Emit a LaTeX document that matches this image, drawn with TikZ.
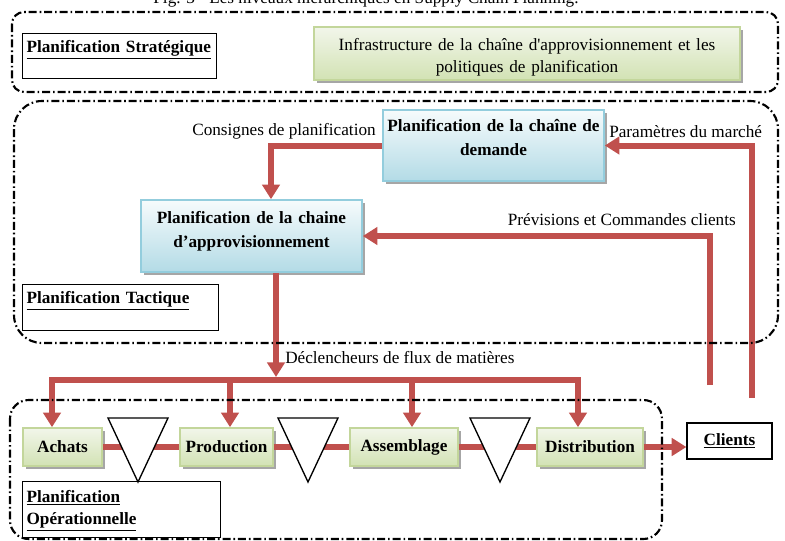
\documentclass[tikz,border=0pt]{standalone}
\usepackage{fontspec}
\setmainfont{Liberation Serif}[Ligatures=TeXOff]
\usetikzlibrary{arrows.meta,shadows}

\definecolor{rouge}{HTML}{C0504D}
\definecolor{vertclair}{HTML}{F2F6EA}
\definecolor{vertfonce}{HTML}{D2E2B4}
\definecolor{vertbord}{HTML}{C3D69B}
\definecolor{bleuclair}{HTML}{F6FBFC}
\definecolor{bleufonce}{HTML}{B3DBE6}
\definecolor{bleubord}{HTML}{93CDDD}

\tikzset{
	txt/.style={font=\fontsize{12.9}{16.5}\selectfont, inner sep=0pt},
	niveau/.style={line width=1.6pt, dash pattern=on 6pt off 2.2pt on 1.2pt off 2.2pt},
	cadre/.style={draw, line width=0.9pt, font=\bfseries\fontsize{12.9}{16.5}\selectfont},
	etiquette/.style={cadre, anchor=north west, align=left, inner xsep=3pt, inner ysep=3pt, text height=11.25pt},
	ombre/.style={drop shadow={shadow xshift=2.2pt, shadow yshift=-2.2pt, fill=black!35, opacity=1}},
	vert/.style={draw=vertbord, line width=1.2pt, top color=vertclair, bottom color=vertfonce, ombre, align=center},
	bleu/.style={draw=bleubord, line width=1.2pt, top color=bleuclair, bottom color=bleufonce, ombre, align=center,
		inner xsep=3pt, text height=9pt, font=\bfseries\fontsize{12.9}{18}\selectfont},
	ligne/.style={draw=rouge, line width=4.5pt},
	flux/.style={ligne, -{Triangle[length=11pt,width=13pt]}},
	stock/.style={draw, line width=1pt, fill=white, line join=miter}
}

\begin{document}
\begin{tikzpicture}[x=0.75pt,y=-0.75pt]
	\useasboundingbox (0,0) rectangle (785,540);
	\node[txt, anchor=base] (titre) at (366,3) {Fig. 3 - Les niveaux hiérarchiques en Supply Chain Planning.};

	%% niveau strategique
	\node[etiquette, text width=139.5pt, text depth=16.5pt] (strat) at (22,33) {\underline{Planification Stratégique}};
	\node[vert, font=\fontsize{12.9}{16.5}\selectfont, text width=313.5pt, inner xsep=3pt, inner ysep=8.25pt,
		text height=9pt, text depth=14.25pt] (infra) at (527,53.5)
		{Infrastructure de la chaîne d'approvisionnement et les\\politiques de planification};

	%% niveau tactique
	\node[bleu, text width=159.75pt, inner ysep=6.75pt, text depth=30.75pt] (demande) at (493.5,145.5) {Planification de la chaîne de\\demande};
	\node[bleu, text width=159.75pt, inner ysep=8.25pt, text depth=28.5pt] (appro) at (251.5,236) {Planification de la chaine\\d’approvisionnement};
	\node[etiquette, text width=141pt, text depth=17.25pt] (tact) at (22,284) {\underline{Planification Tactique}};
	\node[txt, anchor=east] (consignes) at (376,131) {Consignes de planification};
	\node[txt, anchor=west] (parametres) at (609,132) {Paramètres du marché};
	\node[txt, anchor=east] (previsions) at (736,220) {Prévisions et Commandes clients};
	\node[txt, anchor=west] (declencheurs) at (285,358) {Déclencheurs de flux de matières};

	%% niveau operationnel
	\node[vert, font=\bfseries\fontsize{12.9}{16.5}\selectfont, minimum width=59.25pt, minimum height=28.5pt] (achats) at (62.5,447) {Achats};
	\node[vert, font=\bfseries\fontsize{12.9}{16.5}\selectfont, minimum width=69.75pt, minimum height=28.5pt] (production) at (226.5,447) {Production};
	\node[vert, font=\bfseries\fontsize{12.9}{16.5}\selectfont, minimum width=81pt, minimum height=28.5pt] (assemblage) at (404,447) {Assemblage};
	\node[vert, font=\bfseries\fontsize{12.9}{16.5}\selectfont, minimum width=79.5pt, minimum height=28.5pt] (distribution) at (590,447) {Distribution};
	\node[cadre, minimum width=63.75pt, minimum height=27pt] (clients) at (729.5,441) {\underline{Clients}};
	\node[etiquette, text width=142.5pt, text height=12.75pt, text depth=23.25pt] (oper) at (22,481) {\underline{Planification}\\\underline{Opérationnelle}};

	%% points de passage des fleches
	\coordinate (c1) at (271,0);
	\coordinate (mkt) at (752,398);
	\coordinate (cmd) at (710,385);
	\coordinate (dec) at (276,377);
	\coordinate (b1) at (52,380);
	\coordinate (b2) at (230,380);
	\coordinate (b3) at (412,380);
	\coordinate (b4) at (578,380);

	%% fleches
	\draw[flux] (demande.west) -| (c1 |- appro.north);
	\draw[flux] (mkt) |- (demande.east);
	\draw[flux] (cmd) |- (appro.east);
	\draw[flux] (dec |- appro.south) -- (dec);
	\draw[ligne, line cap=rect] (b1) -- (b4);
	\draw[flux] (b1) -- (b1 |- achats.north);
	\draw[flux] (b2) -- (b2 |- production.north);
	\draw[flux] (b3) -- (b3 |- assemblage.north);
	\draw[flux] (b4) -- (b4 |- distribution.north);
	\draw[ligne] (achats) -- (production);
	\draw[ligne] (production) -- (assemblage);
	\draw[ligne] (assemblage) -- (distribution);
	\draw[flux] (distribution.east) -- (distribution.east -| clients.west);

	%% stocks
	\foreach \x in {138,308,500}
		\draw[stock] (\x-30,418) -- (\x+30,418) -- (\x,482) -- cycle;

	%% cadres des niveaux
	\draw[niveau, rounded corners=9pt] (12,12) rectangle (778,92);
	\draw[niveau, rounded corners=21pt] (14,101) rectangle (778,343);
	\draw[niveau, rounded corners=14pt] (10,400) rectangle (662,539);
\end{tikzpicture}
\end{document}
